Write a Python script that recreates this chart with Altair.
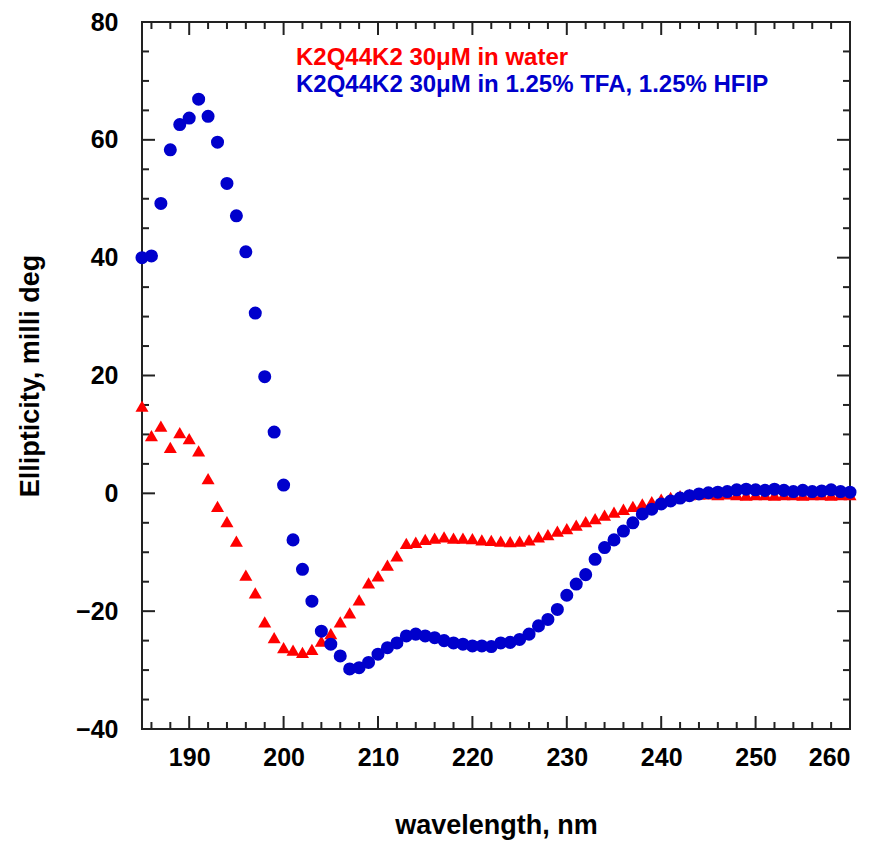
import altair as alt
import pandas as pd

# ---------------- data ----------------
wavelength = list(range(185, 261))

water = [14.8, 9.8, 11.4, 7.8, 10.3, 9.3, 7.2, 2.5, -2.2, -4.8,
         -8.1, -13.9, -16.9, -21.8, -24.5, -26.2, -26.6, -27.0, -26.5, -25.1,
         -23.8, -21.8, -20.3, -18.1, -15.2, -14.0, -12.2, -10.6, -8.5, -8.3,
         -7.8, -7.6, -7.4, -7.6, -7.6, -7.7, -7.9, -8.0, -8.1, -8.2,
         -8.1, -7.9, -7.4, -7.0, -6.4, -6.0, -5.4, -4.8, -4.3, -3.7,
         -3.2, -2.7, -2.2, -1.8, -1.4, -1.0, -0.7, -0.4, -0.2, -0.1,
         -0.1, -0.2, -0.1, -0.2, -0.3, -0.2, -0.2, -0.3, -0.2, -0.2,
         -0.3, -0.2, -0.2, -0.3, -0.2, -0.2]

tfa_hfip = [40.0, 40.3, 49.2, 58.3, 62.6, 63.7, 66.9, 64.0, 59.6, 52.6,
            47.1, 41.0, 30.6, 19.8, 10.4, 1.4, -7.9, -12.9, -18.3, -23.4,
            -25.6, -27.6, -29.8, -29.6, -28.7, -27.3, -26.2, -25.4, -24.2, -23.9,
            -24.2, -24.5, -25.0, -25.4, -25.6, -25.9, -25.9, -26.0, -25.4, -25.3,
            -24.8, -23.9, -22.5, -21.4, -19.7, -17.3, -15.4, -13.8, -11.2, -9.2,
            -7.9, -6.4, -5.0, -3.5, -2.7, -1.8, -1.3, -0.8, -0.4, -0.1,
            0.1, 0.2, 0.3, 0.6, 0.7, 0.6, 0.5, 0.7, 0.5, 0.3,
            0.5, 0.3, 0.4, 0.6, 0.3, 0.2]

x_major = [190, 200, 210, 220, 230, 240, 250, 260]
x_minor = [v for v in range(186, 260, 2) if v % 10 != 0]
y_major = [-40, -20, 0, 20, 40, 60, 80]
y_minor = [v for v in range(-35, 80, 5) if v % 20 != 0]

legend_lines = ["K2Q44K2 30μM in water",
                "K2Q44K2 30μM in 1.25% TFA, 1.25% HFIP"]
RED = "#ff0000"
BLUE = "#0000cc"

# ---------------- layout ----------------
W, H = 708, 707
FONT = "Liberation Sans"
TICKC = "#222222"
MAJ, MIN = 13, 7

xs = alt.Scale(domain=[185, 260], nice=False, zero=False)
ys = alt.Scale(domain=[-40, 80], nice=False, zero=False)

x_axis = alt.Axis(values=x_major, ticks=False, tickSize=0, domain=False, grid=False,
                  labelFont=FONT, labelFontSize=25, labelFontWeight="bold",
                  labelColor="black", labelPadding=16,
                  title="wavelength, nm", titleFont=FONT, titleFontSize=27,
                  titleFontWeight="bold", titleColor="black",
                  titleX=W / 2, titleY=104, titleBaseline="alphabetic",
                  titleAlign="center")
y_axis = alt.Axis(values=y_major, ticks=False, tickSize=0, domain=False, grid=False,
                  labelFont=FONT, labelFontSize=25, labelFontWeight="bold",
                  labelColor="black", labelPadding=24,
                  title="Ellipticity, milli deg", titleFont=FONT, titleFontSize=27,
                  titleFontWeight="bold", titleColor="black",
                  titleAngle=270, titleX=-104, titleY=H / 2,
                  titleBaseline="alphabetic", titleAlign="center")

df_water = pd.DataFrame({"wl": wavelength, "val": water})
df_tfa = pd.DataFrame({"wl": wavelength, "val": tfa_hfip})

X = alt.X("wl:Q", scale=xs, axis=x_axis)
Y = alt.Y("val:Q", scale=ys, axis=y_axis)

red_pts = alt.Chart(df_water).mark_point(
    shape="triangle-up", filled=True, size=170, color=RED, opacity=1, strokeWidth=0
).encode(x=X, y=Y)

blue_pts = alt.Chart(df_tfa).mark_point(
    shape="circle", filled=True, size=170, color=BLUE, opacity=1, strokeWidth=0
).encode(x=X, y=Y)

def yticks(values, length):
    d = pd.DataFrame({"val": values})
    left = alt.Chart(d).mark_rule(color=TICKC, strokeWidth=2).encode(
        y=Y, x=alt.value(0), x2=alt.value(length))
    right = alt.Chart(d).mark_rule(color=TICKC, strokeWidth=2).encode(
        y=Y, x=alt.value(W), x2=alt.value(W - length))
    return [left, right]

def xticks(values, length):
    d = pd.DataFrame({"wl": values})
    bottom = alt.Chart(d).mark_rule(color=TICKC, strokeWidth=2).encode(
        x=X, y=alt.value(H), y2=alt.value(H - length))
    top = alt.Chart(d).mark_rule(color=TICKC, strokeWidth=2).encode(
        x=X, y=alt.value(0), y2=alt.value(length))
    return [bottom, top]

tick_layers = yticks(y_major, MAJ) + yticks(y_minor, MIN) + xticks(x_major, MAJ) + xticks(x_minor, MIN)

LEG_SIZE = 24
leg1 = alt.Chart(pd.DataFrame({"t": [legend_lines[0]]})).mark_text(
    align="left", baseline="alphabetic", font=FONT, fontSize=LEG_SIZE,
    fontWeight="bold", color=RED
).encode(x=alt.value(154), y=alt.value(42.5), text="t:N")
leg2 = alt.Chart(pd.DataFrame({"t": [legend_lines[1]]})).mark_text(
    align="left", baseline="alphabetic", font=FONT, fontSize=LEG_SIZE,
    fontWeight="bold", color=BLUE
).encode(x=alt.value(154), y=alt.value(70), text="t:N")

chart = alt.layer(
    *tick_layers, red_pts, blue_pts, leg1, leg2
).properties(
    width=W, height=H,
    autosize=alt.AutoSizeParams(type="none"),
    padding={"left": 134, "top": 14, "right": 14, "bottom": 111},
    background="white",
).configure_view(stroke=TICKC, strokeWidth=2)

chart.save("out.html", embed_options={"renderer": "svg", "actions": False})
